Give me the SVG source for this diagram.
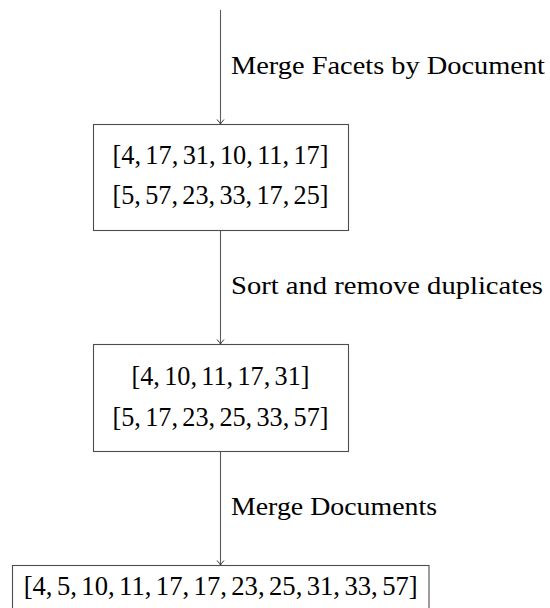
<svg xmlns="http://www.w3.org/2000/svg" width="550" height="608" viewBox="0 0 550 608">
  <style>
    .box { fill: #ffffff; stroke: #4d4d4d; stroke-width: 1.1; }
    .edge { fill: none; stroke: #5a5a5a; stroke-width: 1.1; }
    .tip { fill: none; stroke: #333333; stroke-width: 1; stroke-linecap: round; }
    .t { font-family: "Liberation Serif", "DejaVu Serif", serif; font-size: 26px; fill: #000000; }
    .n { font-size: 27px; }
    .c { text-anchor: middle; }
  </style>
  <defs>
    <path id="tip" class="tip" d="M -3.2 -4.2 Q -0.6 -1.2 0 0 Q 0.6 -1.2 3.2 -4.2"/>
  </defs>

  <rect width="550" height="608" fill="#ffffff"/>

  <!-- connectors with their labels -->
  <g id="connectors">
    <line class="edge" x1="220.5" y1="10" x2="220.5" y2="124"/>
    <use href="#tip" x="220.5" y="124"/>
    <text class="t" x="231" y="73.5" textLength="314" lengthAdjust="spacingAndGlyphs">Merge Facets by Document</text>

    <line class="edge" x1="220.5" y1="230.5" x2="220.5" y2="344"/>
    <use href="#tip" x="220.5" y="344"/>
    <text class="t" x="231" y="294" textLength="312" lengthAdjust="spacingAndGlyphs">Sort and remove duplicates</text>

    <line class="edge" x1="220.5" y1="451.5" x2="220.5" y2="565"/>
    <use href="#tip" x="220.5" y="565"/>
    <text class="t" x="231" y="515" textLength="206" lengthAdjust="spacingAndGlyphs">Merge Documents</text>
  </g>

  <!-- facet lists per document (thin spaces after commas) -->
  <g id="facets">
    <rect class="box" x="93.5" y="124.5" width="255" height="106"/>
    <text class="t n c" x="220.5" y="163.5" textLength="216" lengthAdjust="spacingAndGlyphs">[4,&#x2006;17,&#x2006;31,&#x2006;10,&#x2006;11,&#x2006;17]</text>
    <text class="t n c" x="220.5" y="203.5" textLength="216" lengthAdjust="spacingAndGlyphs">[5,&#x2006;57,&#x2006;23,&#x2006;33,&#x2006;17,&#x2006;25]</text>
  </g>

  <!-- sorted, de-duplicated lists -->
  <g id="sorted">
    <rect class="box" x="93.5" y="344.5" width="255" height="107"/>
    <text class="t n c" x="220.5" y="385" textLength="178" lengthAdjust="spacingAndGlyphs">[4,&#x2006;10,&#x2006;11,&#x2006;17,&#x2006;31]</text>
    <text class="t n c" x="220.5" y="425.5" textLength="216" lengthAdjust="spacingAndGlyphs">[5,&#x2006;17,&#x2006;23,&#x2006;25,&#x2006;33,&#x2006;57]</text>
  </g>

  <!-- merged result -->
  <g id="merged">
    <rect class="box" x="12.5" y="565.5" width="416.5" height="60"/>
    <text class="t n c" x="220.7" y="595" textLength="394" lengthAdjust="spacingAndGlyphs">[4,&#x2006;5,&#x2006;10,&#x2006;11,&#x2006;17,&#x2006;17,&#x2006;23,&#x2006;25,&#x2006;31,&#x2006;33,&#x2006;57]</text>
  </g>
</svg>
